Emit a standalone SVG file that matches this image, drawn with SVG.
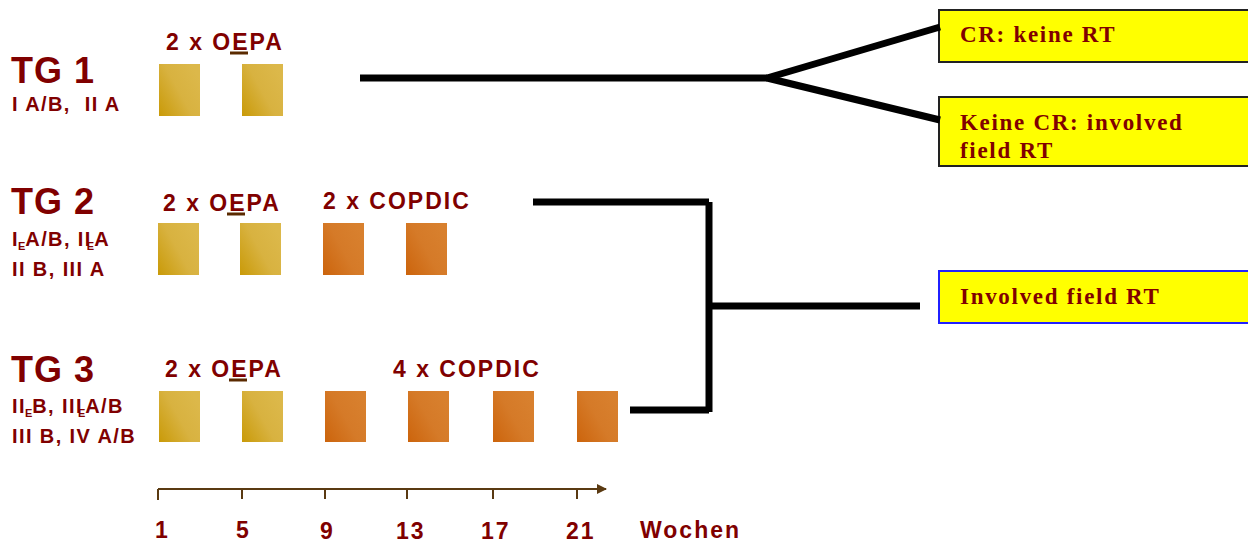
<svg xmlns="http://www.w3.org/2000/svg" width="1248" height="542" viewBox="0 0 1248 542">
<defs>
<linearGradient id="gold" x1="0" y1="1" x2="1" y2="0.3">
<stop offset="0" stop-color="#c99a08"/><stop offset="0.55" stop-color="#d8b240"/><stop offset="1" stop-color="#dcb84a"/>
</linearGradient>
<linearGradient id="orange" x1="0" y1="1" x2="1" y2="0.3">
<stop offset="0" stop-color="#cc640c"/><stop offset="0.55" stop-color="#d57a28"/><stop offset="1" stop-color="#d8802e"/>
</linearGradient>
<marker id="arr" markerWidth="10" markerHeight="10" refX="9" refY="5" orient="auto" markerUnits="userSpaceOnUse">
<path d="M0,0 L10,5 L0,10 Z" fill="#5a3a12"/>
</marker>
</defs>
<style>
.t{font-family:"Liberation Sans",Arial,sans-serif;font-weight:bold;fill:#800000;white-space:pre}
.tg{font-size:36px;letter-spacing:1px}
.st{font-size:20px;letter-spacing:1.4px}
.sub{font-size:11px;letter-spacing:0}
.lb{font-size:23px;letter-spacing:2px}
.ax{font-size:23px;letter-spacing:2px}
.gold{fill:url(#gold)}
.or{fill:url(#orange)}
.ul{stroke:#5a2a00;stroke-width:3}
.box{fill:#ffff00;stroke:#222;stroke-width:2}
.boxb{fill:#ffff00;stroke:#2020ff;stroke-width:2}
.bt{font-family:"Liberation Serif","Times New Roman",serif;font-weight:bold;font-size:23px;fill:#800000;letter-spacing:1.7px}
.c{stroke:#000;stroke-width:7;fill:none}
.axis{stroke:#5a3a12;stroke-width:2;fill:none}
</style>

<g id="tg1">
<text class="t tg" x="11" y="83">TG 1</text>
<text class="t st" x="12" y="111">I A/B,  II A</text>
<text class="t lb" x="166" y="50">2 x OEPA</text>
<line class="ul" x1="230" y1="53" x2="248" y2="53"/>
<rect class="gold" x="159" y="64" width="41" height="52"/>
<rect class="gold" x="242" y="64" width="41" height="52"/>
</g>

<g id="tg2">
<text class="t tg" x="11" y="214">TG 2</text>
<text class="t st" x="12" y="246">I<tspan class="sub" dx="-1" dy="4">E</tspan><tspan dy="-4">A/B, II</tspan><tspan class="sub" dx="-5" dy="4">E</tspan><tspan dy="-4">A</tspan></text>
<text class="t st" x="12" y="276">II B, III A</text>
<text class="t lb" x="163" y="211">2 x OEPA</text>
<line class="ul" x1="227" y1="214" x2="245" y2="214"/>
<text class="t lb" x="323" y="209">2 x COPDIC</text>
<rect class="gold" x="158" y="223" width="41" height="52"/>
<rect class="gold" x="240" y="223" width="41" height="52"/>
<rect class="or" x="323" y="223" width="41" height="52"/>
<rect class="or" x="406" y="223" width="41" height="52"/>
</g>

<g id="tg3">
<text class="t tg" x="11" y="382">TG 3</text>
<text class="t st" x="12" y="413">II<tspan class="sub" dx="-1" dy="4">E</tspan><tspan dy="-4">B, III</tspan><tspan class="sub" dx="-5" dy="4">E</tspan><tspan dy="-4">A/B</tspan></text>
<text class="t st" x="12" y="443">III B, IV A/B</text>
<text class="t lb" x="165" y="377">2 x OEPA</text>
<line class="ul" x1="229" y1="380" x2="247" y2="380"/>
<text class="t lb" x="393" y="377">4 x COPDIC</text>
<rect class="gold" x="159" y="391" width="41" height="51"/>
<rect class="gold" x="242" y="391" width="41" height="51"/>
<rect class="or" x="325" y="391" width="41" height="51"/>
<rect class="or" x="408" y="391" width="41" height="51"/>
<rect class="or" x="493" y="391" width="41" height="51"/>
<rect class="or" x="577" y="391" width="41" height="51"/>
</g>

<g id="box-cr">
<rect class="box" x="939" y="10" width="315" height="52"/>
<text class="bt" x="960" y="42">CR: keine RT</text>
</g>
<g id="box-nocr">
<rect class="box" x="939" y="97" width="315" height="69"/>
<text class="bt" x="960" y="130">Keine CR: involved</text>
<text class="bt" x="960" y="158">field RT</text>
</g>
<g id="box-ifrt">
<rect class="boxb" x="939" y="271" width="315" height="52"/>
<text class="bt" x="960" y="304">Involved field RT</text>
</g>

<g id="connectors">
<path class="c" d="M360,78 H767"/>
<path class="c" d="M767,78 L940,27"/>
<path class="c" d="M767,78 L940,120"/>
<path class="c" d="M533,202 H709 M630,410 H709 M709,202 V412 M709,306 H920"/>
</g>

<g id="axis">
<path class="axis" d="M158,489 H606" marker-end="url(#arr)"/>
<path class="axis" d="M158,489 V500 M242,489 V499 M325,489 V499 M407,489 V499 M493,489 V499 M577,489 V499"/>
<text class="t ax" x="155" y="538">1</text>
<text class="t ax" x="236" y="538">5</text>
<text class="t ax" x="320" y="539">9</text>
<text class="t ax" x="396" y="539">13</text>
<text class="t ax" x="481" y="539">17</text>
<text class="t ax" x="566" y="539">21</text>
<text class="t ax" x="640" y="538">Wochen</text>
</g>
</svg>
